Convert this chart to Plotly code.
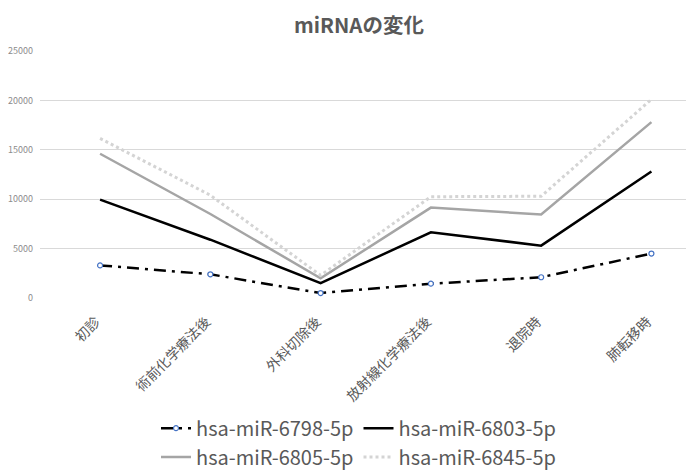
import plotly.graph_objects as go

categories = ["初診", "術前化学療法後", "外科切除後", "放射線化学療法後", "退院時", "肺転移時"]
mir6798 = [3300, 2400, 500, 1450, 2100, 4500]
mir6803 = [9950, 5900, 1500, 6650, 5300, 12800]
mir6805 = [14600, 8500, 2000, 9150, 8450, 17800]
mir6845 = [16150, 10400, 2300, 10250, 10300, 20100]
ytick_vals = [0, 5000, 10000, 15000, 20000, 25000]
ytick_text = ["0", "5000", "10000", "15000", "20000", "25000"]

GRAY = "#595959"
FONT = "Noto Sans CJK JP, Noto Sans, sans-serif"

fig = go.Figure()
fig.add_trace(go.Scatter(
    x=categories, y=mir6805, name="hsa-miR-6805-5p", mode="lines",
    line=dict(color="#A5A5A5", width=2.5), legend="legend2"))
fig.add_trace(go.Scatter(
    x=categories, y=mir6845, name="hsa-miR-6845-5p", mode="lines",
    line=dict(color="#D4D4D4", width=3, dash="dot"), legend="legend2"))
fig.add_trace(go.Scatter(
    x=categories, y=mir6803, name="hsa-miR-6803-5p", mode="lines",
    line=dict(color="#000000", width=2.5), legend="legend"))
fig.add_trace(go.Scatter(
    x=categories, y=mir6798, name="hsa-miR-6798-5p", mode="lines+markers",
    line=dict(color="#000000", width=2.5, dash="12px,6px,3px,6px"),
    marker=dict(symbol="circle", size=5, color="white",
                line=dict(color="#4472C4", width=1.2)),
    legend="legend"))

fig.update_layout(
    width=686, height=463,
    paper_bgcolor="white", plot_bgcolor="white",
    margin=dict(l=32, r=4, t=43, b=173, autoexpand=False),
    font=dict(family=FONT, color=GRAY),
    title=dict(text="<b>miRNAの変化</b>", x=0.5117, xanchor="center",
               y=0.962, yanchor="middle",
               font=dict(size=20.5, color=GRAY, family=FONT)),
    xaxis=dict(type="category", range=[-0.545, 5.35], showgrid=False,
               showline=False, zeroline=False, ticks="", automargin=False,
               tickangle=-45, ticklabelstandoff=12, ticklabelshift=-4,
               tickfont=dict(size=14, color=GRAY, family=FONT)),
    yaxis=dict(range=[0, 25000], tickvals=ytick_vals, ticktext=ytick_text,
               showgrid=True, gridcolor="#D9D9D9", gridwidth=1, zeroline=False,
               showline=False, ticks="", ticklabelstandoff=6, automargin=False,
               tickfont=dict(size=9, color="#8C8C8C", family=FONT)),
    legend=dict(orientation="h", x=0.49, xanchor="center", y=-0.527, yanchor="middle",
                font=dict(size=20, color=GRAY, family=FONT), traceorder="reversed",
                itemwidth=30, bgcolor="rgba(0,0,0,0)", tracegroupgap=0),
    legend2=dict(orientation="h", x=0.49, xanchor="center", y=-0.644, yanchor="middle",
                 font=dict(size=20, color=GRAY, family=FONT), traceorder="normal",
                 itemwidth=30, bgcolor="rgba(0,0,0,0)", tracegroupgap=0),
)

fig.write_html("out.html")
